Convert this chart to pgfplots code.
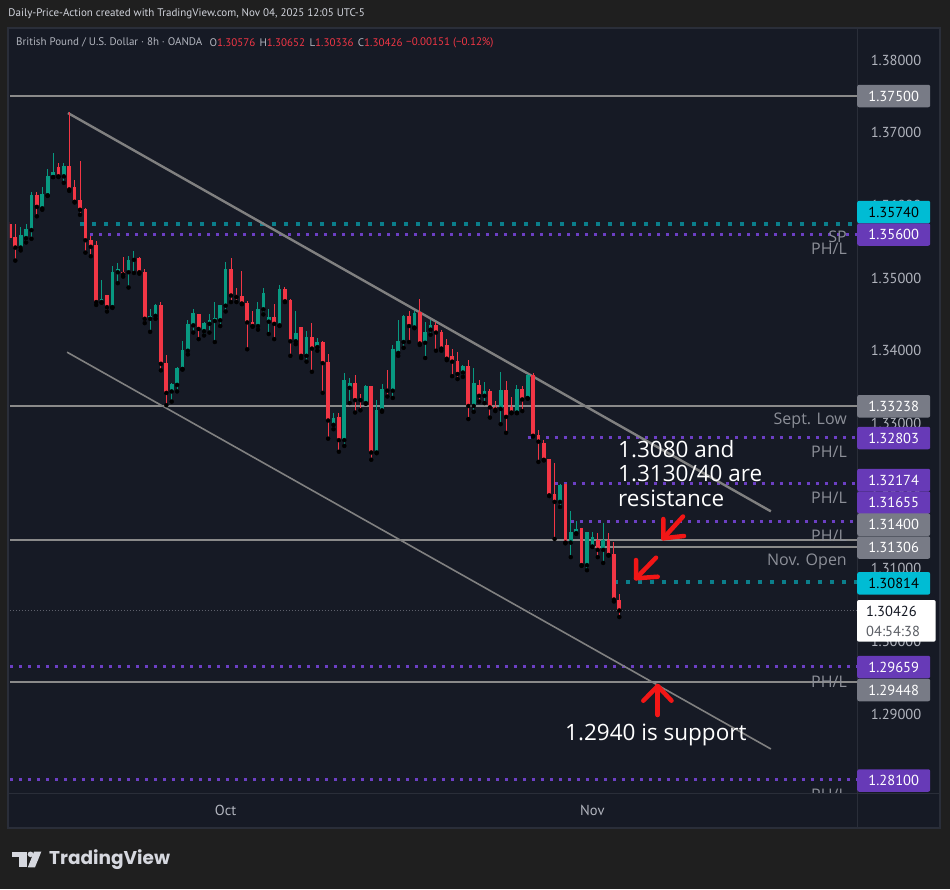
\documentclass[border=0pt]{standalone}
\usepackage{pgfplots}
\pgfplotsset{compat=1.18}
\usepackage{pgfplotstable}
\usepackage{fontspec}
\setmainfont{PT Sans}
\newfontfamily\popfont{Poppins}
\newfontfamily\opfont{Open Sans}
\definecolor{outerbg}{HTML}{1F1F1F}
\definecolor{panel}{HTML}{161A25}
\definecolor{border}{HTML}{2A2E39}
\definecolor{upc}{HTML}{089981}
\definecolor{dnc}{HTML}{F23645}
\definecolor{lvl}{HTML}{8A8A8A}
\definecolor{trend}{HTML}{808080}
\definecolor{purp}{HTML}{673AB7}
\definecolor{purpdot}{HTML}{6C3FC4}
\definecolor{tealdot}{HTML}{0B7F8C}
\definecolor{cyanbox}{HTML}{00BCD4}
\definecolor{graybox}{HTML}{787B86}
\definecolor{txtgray}{HTML}{B2B5BE}
\definecolor{lblgray}{HTML}{8C8F98}
\definecolor{hdr}{HTML}{D1D4DC}
\definecolor{arrowred}{HTML}{F21616}
\definecolor{curline}{HTML}{5D606B}
\definecolor{darktxt}{HTML}{131722}

\pgfplotstableread{
i o h l c
2 1.3542 1.3570 1.3538 1.3559
3 1.3555 1.3575 1.3549 1.3568
4 1.3566 1.3619 1.3554 1.3614
6 1.3596 1.3625 1.3594 1.3616
7 1.3614 1.3650 1.3613 1.3640
8 1.3639 1.3672 1.3639 1.3646
10 1.3640 1.3659 1.3631 1.3654
17 1.3467 1.3498 1.3466 1.3471
19 1.3460 1.3517 1.3459 1.3509
20 1.3508 1.3521 1.3493 1.3513
22 1.3508 1.3530 1.3487 1.3525
23 1.3525 1.3537 1.3507 1.3526
26 1.3444 1.3457 1.3426 1.3448
27 1.3448 1.3464 1.3444 1.3463
30 1.3344 1.3356 1.3330 1.3354
31 1.3353 1.3377 1.3344 1.3376
32 1.3375 1.3413 1.3374 1.3401
33 1.3400 1.3442 1.3395 1.3437
34 1.3435 1.3457 1.3425 1.3452
36 1.3427 1.3439 1.3421 1.3438
37 1.3437 1.3451 1.3425 1.3442
38 1.3441 1.3467 1.3412 1.3445
39 1.3442 1.3463 1.3434 1.3463
40 1.3462 1.3522 1.3454 1.3513
46 1.3434 1.3467 1.3429 1.3458
47 1.3457 1.3486 1.3450 1.3480
48 1.3440 1.3458 1.3423 1.3447
50 1.3435 1.3490 1.3434 1.3485
53 1.3413 1.3455 1.3409 1.3424
55 1.3393 1.3427 1.3385 1.3419
57 1.3405 1.3418 1.3400 1.3412
60 1.3298 1.3314 1.3292 1.3308
62 1.3277 1.3370 1.3269 1.3360
63 1.3349 1.3362 1.3328 1.3355
66 1.3328 1.3353 1.3327 1.3352
68 1.3260 1.3332 1.3259 1.3319
69 1.3318 1.3354 1.3316 1.3348
71 1.3345 1.3408 1.3335 1.3402
72 1.3397 1.3442 1.3393 1.3413
73 1.3412 1.3449 1.3404 1.3448
75 1.3432 1.3454 1.3431 1.3452
77 1.3411 1.3439 1.3390 1.3426
78 1.3429 1.3442 1.3422 1.3435
84 1.3370 1.3380 1.3364 1.3379
86 1.3324 1.3376 1.3316 1.3355
88 1.3338 1.3357 1.3328 1.3344
91 1.3320 1.3371 1.3299 1.3346
94 1.3315 1.3353 1.3314 1.3347
96 1.3335 1.3368 1.3334 1.3367
102 1.3192 1.3217 1.3185 1.3215
104 1.3136 1.3179 1.3116 1.3150
105 1.3149 1.31655 1.3148 1.3155
107 1.3105 1.3150 1.3098 1.3150
108 1.31306 1.3150 1.3130 1.3144
110 1.3126 1.3163 1.3108 1.3139
}\upcandles

\pgfplotstableread{
i o h l c
0 1.3574 1.3577 1.3552 1.3555
1 1.3557 1.3575 1.3524 1.3542
5 1.3614 1.3619 1.3585 1.3598
9 1.3653 1.3659 1.3639 1.3640
11 1.3654 1.3728 1.3620 1.3622
12 1.3625 1.3635 1.3604 1.3605
13 1.3607 1.3661 1.3587 1.3594
14 1.3595 1.3597 1.3535 1.3552
15 1.3553 1.3558 1.3530 1.3543
16 1.3545 1.3551 1.3463 1.3467
18 1.3477 1.3477 1.3454 1.3460
21 1.3509 1.3529 1.3502 1.3505
24 1.3527 1.3529 1.3506 1.3508
25 1.3509 1.3512 1.3438 1.3444
28 1.3463 1.3467 1.3373 1.3382
29 1.3383 1.3394 1.3325 1.3342
35 1.3451 1.3451 1.3416 1.3430
41 1.3513 1.3527 1.3467 1.3476
42 1.3477 1.3487 1.3467 1.3474
43 1.3476 1.3510 1.3464 1.3465
44 1.3466 1.3469 1.3402 1.3439
45 1.3440 1.3455 1.3433 1.3434
49 1.3447 1.3464 1.3416 1.3437
51 1.3485 1.3488 1.3467 1.3468
52 1.3470 1.3471 1.3393 1.3413
54 1.3432 1.3432 1.3390 1.3393
56 1.3419 1.3438 1.3371 1.3403
58 1.3412 1.3414 1.3342 1.3383
59 1.3384 1.3395 1.3279 1.3304
61 1.3309 1.3314 1.3261 1.3277
64 1.3355 1.3366 1.3315 1.3332
65 1.3333 1.3340 1.3318 1.3332
67 1.3352 1.3352 1.3250 1.3260
70 1.3348 1.3374 1.3337 1.3345
74 1.3448 1.3454 1.3412 1.3434
76 1.3453 1.3471 1.3408 1.3410
79 1.3435 1.3439 1.3400 1.3425
80 1.3426 1.3428 1.3400 1.3403
81 1.3408 1.3416 1.3387 1.3389
82 1.3393 1.3402 1.3365 1.3385
83 1.3386 1.3398 1.3361 1.3368
85 1.3379 1.3387 1.3306 1.3324
87 1.3353 1.3360 1.3330 1.3338
89 1.3344 1.3347 1.3308 1.3322
90 1.3323 1.3331 1.3317 1.3319
92 1.3346 1.3359 1.3287 1.3309
93 1.3322 1.3337 1.3314 1.3315
95 1.3347 1.3352 1.3317 1.3333
97 1.3367 1.3369 1.3282 1.3283
98 1.3284 1.3291 1.3247 1.3275
99 1.3273 1.3277 1.3249 1.3250
100 1.3251 1.3251 1.3200 1.3201
101 1.3203 1.3246 1.3141 1.3192
103 1.3216 1.3216 1.3135 1.3136
106 1.3156 1.3156 1.3104 1.3105
109 1.3139 1.3149 1.3116 1.3126
111 1.3139 1.3149 1.3118 1.3119
112 1.3120 1.3137 1.3055 1.30576
113 1.30576 1.30652 1.30336 1.30426
}\dncandles

\newcommand{\fs}[1]{\fontsize{#1}{#1}\selectfont}
\newcommand{\pbox}[4]{\node[fill=#2, text=#3, rounded corners=2pt, minimum width=73pt, minimum height=22.5pt, inner sep=0pt, anchor=west, font=\fs{14.5}] at (857,-#1) {#4};}
\newcommand{\rlab}[2]{\node[anchor=east, text=lblgray, font=\opfont\fs{16}, inner sep=0pt] at (847,-#1) {#2};}

\begin{document}
\begin{tikzpicture}[x=1pt,y=1pt]
\useasboundingbox (0,0) rectangle (950,-889);
\fill[outerbg] (0,0) rectangle (950,-889);
\fill[panel] (8,-28) rectangle (940,-828);

\begin{axis}[
  at={(10pt,-793pt)}, anchor=south west,
  scale only axis, width=847pt, height=765pt,
  xmin=0.017, xmax=157.07, ymin=1.27914, ymax=1.38441,
  axis line style={draw=none},
  major tick length=0pt,
  scaled y ticks=false,
  ytick={1.28,1.29,1.30,1.31,1.32,1.33,1.34,1.35,1.36,1.37,1.38},
  yticklabel pos=right,
  /pgf/number format/assume math mode=true,
  yticklabel style={anchor=center, xshift=39pt, font=\fs{14.5}, text=txtgray,
    /pgf/number format/fixed, /pgf/number format/fixed zerofill, /pgf/number format/precision=5},
  xtick={40,108}, xticklabels={Oct,Nov},
  xticklabel style={anchor=center, yshift=-17pt, font=\fs{14.5}, text=txtgray},
]
% levels
\addplot[lvl, line width=2pt] coordinates {(0,1.375) (160,1.375)};
\addplot[lvl, line width=2pt] coordinates {(0,1.33238) (160,1.33238)};
\addplot[lvl, line width=2pt] coordinates {(0,1.314) (160,1.314)};
\addplot[lvl, line width=2pt] coordinates {(107.9,1.31306) (160,1.31306)};
\addplot[lvl, line width=2pt] coordinates {(0,1.29448) (160,1.29448)};
\addplot[tealdot, line width=3.6pt, dash pattern=on 3.8pt off 8.2pt] coordinates {(13,1.3574) (160,1.3574)};
\addplot[tealdot, line width=3.6pt, dash pattern=on 3.8pt off 8.2pt] coordinates {(112,1.30814) (160,1.30814)};
\addplot[purpdot, line width=2.8pt, dash pattern=on 3pt off 6pt] coordinates {(14.9,1.356) (160,1.356)};
\addplot[purpdot, line width=2.8pt, dash pattern=on 3pt off 6pt] coordinates {(96,1.32803) (160,1.32803)};
\addplot[purpdot, line width=2.8pt, dash pattern=on 3pt off 6pt] coordinates {(101,1.32174) (160,1.32174)};
\addplot[purpdot, line width=2.8pt, dash pattern=on 3pt off 6pt] coordinates {(104,1.31655) (160,1.31655)};
\addplot[purpdot, line width=2.8pt, dash pattern=on 3pt off 6pt] coordinates {(0,1.29659) (160,1.29659)};
\addplot[purpdot, line width=2.8pt, dash pattern=on 3pt off 6pt] coordinates {(0,1.281) (160,1.281)};
\addplot[curline, line width=0.8pt, dash pattern=on 1pt off 2pt] coordinates {(0,1.30426) (160,1.30426)};
% trend lines
\addplot[trend, line width=2.4pt] coordinates {(10.77,1.37271) (141.1,1.3179)};
\addplot[trend, line width=1.6pt] coordinates {(10.6,1.3398) (141.1,1.2852)};
% wicks
\addplot[only marks, mark=none, error bars/.cd, y dir=plus, y explicit, error mark=none,
  error bar style={upc, line width=1pt}]
  table[x=i, y=l, y error plus expr={\thisrow{h}-\thisrow{l}}] {\upcandles};
\addplot[only marks, mark=none, error bars/.cd, y dir=plus, y explicit, error mark=none,
  error bar style={dnc, line width=1pt}]
  table[x=i, y=l, y error plus expr={\thisrow{h}-\thisrow{l}}] {\dncandles};
% bodies
\addplot[only marks, mark=none, error bars/.cd, y dir=plus, y explicit, error mark=none,
  error bar style={upc, line width=3.7pt}]
  table[x=i, y=o, y error plus expr={max(\thisrow{c}-\thisrow{o},0.00012)}] {\upcandles};
\addplot[only marks, mark=none, error bars/.cd, y dir=plus, y explicit, error mark=none,
  error bar style={dnc, line width=3.7pt}]
  table[x=i, y=c, y error plus expr={max(\thisrow{o}-\thisrow{c},0.00012)}] {\dncandles};
\end{axis}

% labels inside plot
\begin{scope}
\clip (10,-28) rectangle (857,-793);
\rlab{237}{SP}
\rlab{249}{PH/L}
\rlab{421}{Sept. Low}
\rlab{452}{PH/L}
\rlab{498}{PH/L}
\rlab{536}{PH/L}
\rlab{562}{Nov. Open}
\rlab{682}{PH/L}
\rlab{795}{PH/L}
\end{scope}

% annotations
\node[anchor=west, text=white, font=\opfont\fs{22.5}, inner sep=0pt] at (618,-449) {1.3080 and};
\node[anchor=west, text=white, font=\opfont\fs{22.5}, inner sep=0pt] at (618,-473.5) {1.3130/40 are};
\node[anchor=west, text=white, font=\opfont\fs{22.5}, inner sep=0pt] at (618,-498) {resistance};
\node[anchor=west, text=white, font=\opfont\fs{22.5}, inner sep=0pt] at (565,-735) {1.2940 is support};

\begin{scope}[arrowred, line width=4.5pt, line cap=round, line join=round]
\draw (683,-516.5) -- (663.3,-538.3);
\draw (663.3,-519) -- (663.3,-538.3) -- (684,-536);
\draw (656,-557.7) -- (636,-578.3);
\draw (636,-560) -- (636,-578.3) -- (657.7,-576.7);
\draw (657.7,-686) -- (657.7,-715);
\draw (643.3,-700.7) -- (657.7,-686) -- (671.5,-700.7);
\end{scope}

% separators and frame
\draw[border, line width=1pt] (857,-28) -- (857,-828);
\draw[border, line width=1pt] (8,-793) -- (940,-793);
\draw[border, line width=1.5pt] (8,-28) rectangle (940,-828);

% price boxes
\pbox{96}{graybox}{white}{1.37500}
\pbox{212}{cyanbox}{black}{1.35740}
\pbox{234.5}{purp}{white}{1.35600}
\pbox{406.3}{graybox}{white}{1.33238}
\pbox{438}{purp}{white}{1.32803}
\pbox{480}{purp}{white}{1.32174}
\pbox{502.5}{purp}{white}{1.31655}
\pbox{524.7}{graybox}{white}{1.31400}
\pbox{547.5}{graybox}{white}{1.31306}
\pbox{583.3}{cyanbox}{black}{1.30814}
\pbox{667}{purp}{white}{1.29659}
\pbox{690}{graybox}{white}{1.29448}
\pbox{780.5}{purp}{white}{1.28100}
\fill[white, rounded corners=2pt] (857,-600) rectangle (935.7,-641.7);
\node[anchor=west, text=darktxt, font=\fs{14.5}, inner sep=0pt] at (866,-611) {1.30426};
\node[anchor=west, text=darktxt!70, font=\fs{14.5}, inner sep=0pt] at (866,-631) {04:54:38};

% header
\node[anchor=west, text=hdr, font=\fs{11}, inner sep=0pt] at (8.3,-14) {Daily-Price-Action created with TradingView.com, Nov 04, 2025 12:05 UTC-5};
\node[anchor=west, text=txtgray, font=\fs{11}, inner sep=0pt] at (16,-42.3) {British Pound / U.S. Dollar · 8h · OANDA};
\node[anchor=west, text=txtgray, font=\fs{11}, inner sep=0pt] at (209.3,-42.3) {O\textcolor{dnc}{1.30576}};
\node[anchor=west, text=txtgray, font=\fs{11}, inner sep=0pt] at (259.3,-42.3) {H\textcolor{dnc}{1.30652}};
\node[anchor=west, text=txtgray, font=\fs{11}, inner sep=0pt] at (309.3,-42.3) {L\textcolor{dnc}{1.30336}};
\node[anchor=west, text=txtgray, font=\fs{11}, inner sep=0pt] at (357.7,-42.3) {C\textcolor{dnc}{1.30426}};
\node[anchor=west, text=dnc, font=\fs{11}, inner sep=0pt] at (406,-42.3) {−0.00151 (−0.12\%)};

% logo
\begin{scope}[fill=hdr!90!white]
\fill (12.3,-851.7) rectangle (26.7,-857.3);
\fill (19,-851.7) rectangle (26.7,-867.3);
\fill (30.5,-854.3) circle (2.8);
\fill (34,-851.7) -- (41.3,-851.7) -- (35,-867.3) -- (27.8,-867.3) -- cycle;
\end{scope}
\node[anchor=west, text=hdr!90!white, font=\popfont\bfseries\fs{18.5}, inner sep=0pt] at (49,-859.5) {TradingView};
\end{tikzpicture}
\end{document}
